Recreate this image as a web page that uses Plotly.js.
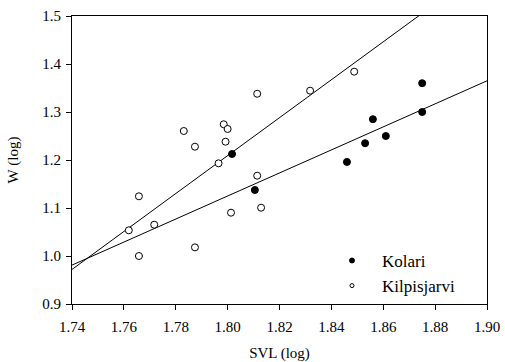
<!DOCTYPE html>
<html><head><meta charset="utf-8">
<script src="https://cdn.plot.ly/plotly-3.0.1.min.js"></script>
<style>html,body{margin:0;padding:0;background:#fff}#c{width:505px;height:362px}</style>
</head><body><div id="c"></div>
<script>
const kolariX = [1.8017, 1.8105, 1.8460, 1.8530, 1.8560, 1.8610, 1.8750, 1.8750];
const kolariY = [1.2125, 1.1375, 1.1960, 1.2350, 1.2850, 1.2500, 1.3600, 1.3000];
const kilpX = [1.7619, 1.7658, 1.7658, 1.7717, 1.7831, 1.7874, 1.7874, 1.7965, 1.7985, 1.8000, 1.7992, 1.8013, 1.8114, 1.8114, 1.8129, 1.8318, 1.8488];
const kilpY = [1.0535, 1.1244, 1.0000, 1.0652, 1.2604, 1.2277, 1.0180, 1.1931, 1.2744, 1.2646, 1.2381, 1.0902, 1.3380, 1.1673, 1.1006, 1.3444, 1.3840];
// regression lines: W = a + b*(SVL - 1.74)
const kolariFit = {a: 0.981, b: 2.40};
const kilpFit = {a: 0.972, b: 3.952};
const lineX = [1.74, 1.90];
const xTicks = [1.74, 1.76, 1.78, 1.80, 1.82, 1.84, 1.86, 1.88, 1.90];
const yTicks = [0.9, 1.0, 1.1, 1.2, 1.3, 1.4, 1.5];

const fitY = (f) => lineX.map(x => f.a + f.b * (x - 1.74));
const font = {family: 'Liberation Serif, Times New Roman, serif', color: '#000'};

const traces = [
  {x: lineX, y: fitY(kolariFit), mode: 'lines', line: {color: '#000', width: 1}, showlegend: false, hoverinfo: 'skip'},
  {x: lineX, y: fitY(kilpFit), mode: 'lines', line: {color: '#000', width: 1}, showlegend: false, hoverinfo: 'skip'},
  {x: kolariX, y: kolariY, mode: 'markers', name: 'Kolari', showlegend: false, marker: {symbol: 'circle', size: 7, color: '#000', line: {color: '#000', width: 1}}},
  {x: kilpX, y: kilpY, mode: 'markers', name: 'Kilpisjarvi', showlegend: false, marker: {symbol: 'circle', size: 7, color: '#fff', line: {color: '#000', width: 1}}},
  // legend entries (smaller symbols, as in the original)
  {x: [null], y: [null], mode: 'markers', name: 'Kolari', marker: {symbol: 'circle', size: 5, color: '#000', line: {color: '#000', width: 1}}},
  {x: [null], y: [null], mode: 'markers', name: 'Kilpisjarvi', marker: {symbol: 'circle', size: 4, color: '#fff', line: {color: '#000', width: 1}}}
];

const layout = {
  width: 505, height: 362,
  margin: {l: 72, r: 18, t: 16, b: 58},
  paper_bgcolor: '#fff', plot_bgcolor: '#fff',
  font: Object.assign({size: 15}, font),
  showlegend: true,
  legend: {x: 0.6024, y: 0.212, xanchor: 'left', yanchor: 'top', bgcolor: 'rgba(0,0,0,0)', font: Object.assign({size: 17}, font), itemwidth: 50, itemsizing: 'trace', tracegroupgap: 0},
  xaxis: {
    range: [1.74, 1.90], tickvals: xTicks, ticktext: xTicks.map(v => v.toFixed(2)),
    ticks: 'outside', ticklen: 5, tickwidth: 1, tickcolor: '#000',
    showline: true, linecolor: '#000', linewidth: 1, mirror: true,
    showgrid: false, zeroline: false, ticklabelstandoff: 4,
    tickfont: Object.assign({size: 15}, font),
    title: {text: 'SVL (log)', font: Object.assign({size: 15}, font), standoff: 14}
  },
  yaxis: {
    range: [0.9, 1.5], tickvals: yTicks, ticktext: yTicks.map(v => v.toFixed(1)),
    ticks: 'outside', ticklen: 5, tickwidth: 1, tickcolor: '#000',
    showline: true, linecolor: '#000', linewidth: 1, mirror: true,
    showgrid: false, zeroline: false, ticklabelstandoff: 2,
    tickfont: Object.assign({size: 15}, font),
    title: {text: 'W (log)', font: Object.assign({size: 15}, font), standoff: 20}
  }
};
Plotly.newPlot('c', traces, layout, {staticPlot: true, displayModeBar: false});
</script></body></html>
